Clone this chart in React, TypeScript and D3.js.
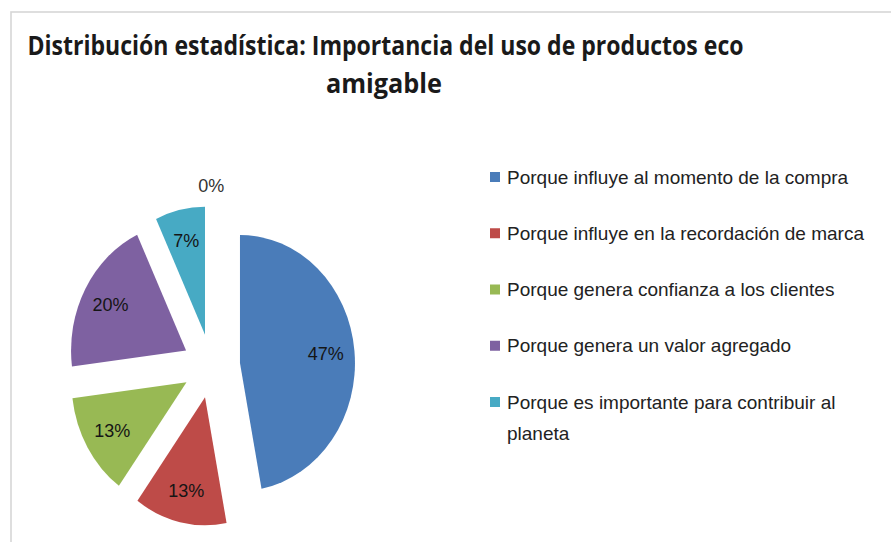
import React from 'react';
import * as d3 from 'd3';

const titleLines = ['Distribución estadística: Importancia del uso de productos eco', 'amigable'];
const categories = [
  'Porque influye al momento de la compra',
  'Porque influye en la recordación de marca',
  'Porque genera confianza a los clientes',
  'Porque genera un valor agregado',
  'Porque es importante para contribuir al planeta',
  '',
];
const values = [47, 13, 13, 20, 7, 0];
const legendLines = [
  ['Porque influye al momento de la compra'],
  ['Porque influye en la recordación de marca'],
  ['Porque genera confianza a los clientes'],
  ['Porque genera un valor agregado'],
  ['Porque es importante para contribuir al', 'planeta'],
];
const colors = ['#4A7CB9', '#BE4B48', '#98B954', '#7E61A1', '#47AAC4', '#F79646'];

const W = 891;
const H = 542;
const cx = 211.3;
const cy = 366;
const R = 115;
const SY = 1.113;
const EXPLODE = 28.8;

export default function App() {
  const pie = d3.pie<number>().sort(null).value((d) => d);
  const arcs = pie(values);
  const arc = d3.arc<d3.PieArcDatum<number>>().innerRadius(0).outerRadius(R);

  const legendY = d3.scalePoint<number>().domain(d3.range(legendLines.length)).range([177, 402]);

  return (
    <svg
      width={W}
      height={H}
      style={{ position: 'absolute', left: 0, top: 0, background: '#fff' }}
      xmlns="http://www.w3.org/2000/svg"
    >
      <rect x={0} y={0} width={W} height={H} fill="#fff" />
      <rect x={11} y={12} width={W + 20} height={H + 20} fill="#fff" stroke="#d6d6d6" strokeWidth={1.6} />
      <g fontFamily="'Open Sans', 'Noto Sans', sans-serif" fontWeight={700} fontSize={26} fill="#1a1a1a" textAnchor="middle">
        <text x={385.5} y={55} textLength={716} lengthAdjust="spacingAndGlyphs">{titleLines[0]}</text>
        <text x={384} y={93} textLength={116} lengthAdjust="spacingAndGlyphs">{titleLines[1]}</text>
      </g>
      <g transform={`translate(${cx},${cy}) scale(1,${SY})`}>
        {arcs.map((a, i) => {
          const mid = (a.startAngle + a.endAngle) / 2;
          if (a.value === 0) return null;
          return (
            <path
              key={i}
              d={arc(a) || ''}
              fill={colors[i]}
              transform={`translate(${EXPLODE * Math.sin(mid)},${-EXPLODE * Math.cos(mid)})`}
            />
          );
        })}
      </g>
      <g fontFamily="'Liberation Sans', Arial, sans-serif" fontSize={18} fill="#151515" textAnchor="middle">
        {arcs.map((a, i) => {
          const mid = (a.startAngle + a.endAngle) / 2;
          const dist = a.value === 0 ? EXPLODE + R * 1.155 : EXPLODE + R * 0.75;
          const x = cx + dist * Math.sin(mid);
          const y = cy - dist * Math.cos(mid) * SY;
          return (
            <text key={i} x={x} y={y} dy="0.35em" fill={a.value === 0 ? '#333' : '#151515'}>
              {`${d3.format('.0f')(a.value)}%`}
            </text>
          );
        })}
      </g>
      <g fontFamily="'Liberation Sans', Arial, sans-serif" fontSize={19} fill="#222">
        {legendLines.map((lines, i) => {
          const y = legendY(i) as number;
          return (
            <g key={i}>
              <rect x={490} y={y - 5} width={10} height={10} fill={colors[i]} />
              {lines.map((ln, j) => (
                <text key={j} x={507} y={y + 6.5 + j * 31}>{ln}</text>
              ))}
            </g>
          );
        })}
      </g>
    </svg>
  );
}
